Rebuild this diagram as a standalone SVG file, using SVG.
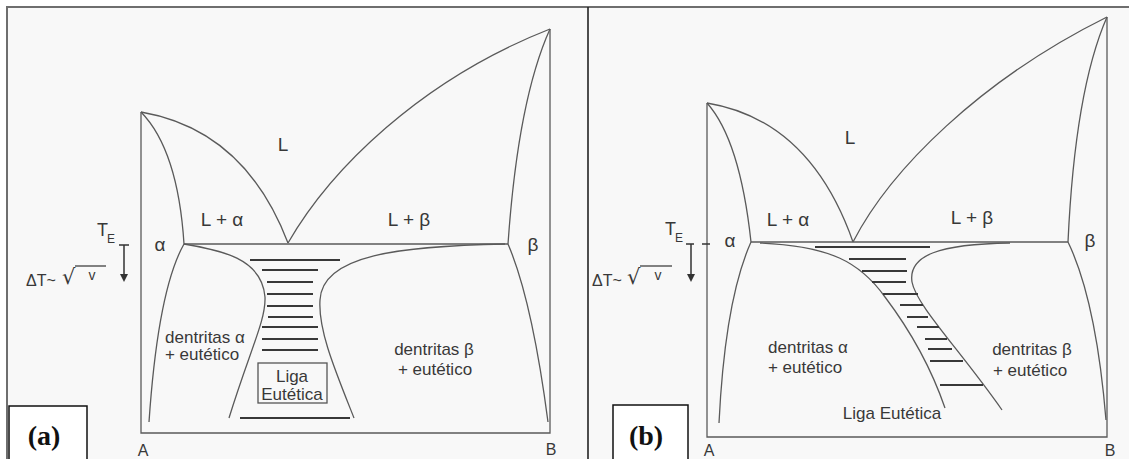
<svg xmlns="http://www.w3.org/2000/svg" width="1129" height="459" viewBox="0 0 1129 459">
<defs>
<style>
.ln{fill:none;stroke:#5a5a5a;stroke-width:1.3}
.ht{fill:none;stroke:#383838;stroke-width:2}
.fr{fill:none;stroke:#6e6e6e;stroke-width:2}
.t{font-family:"Liberation Sans",Arial,sans-serif;fill:#383838}
.rad{font-family:"DejaVu Sans",sans-serif;fill:#383838;font-size:21px}
.ph{font-size:19px;text-anchor:middle}
.rg{font-size:17px;text-anchor:middle}
.ax{font-size:16px;text-anchor:middle}
.lab{font-family:"Liberation Serif","Times New Roman",serif;font-weight:bold;font-size:28px;fill:#111;text-anchor:middle}
.box{fill:#fff;stroke:#111;stroke-width:1.5}
</style>
<marker id="ah" viewBox="0 0 10 10" refX="0" refY="5" markerUnits="userSpaceOnUse" markerWidth="9" markerHeight="8" orient="auto">
<path d="M0,0 L10,5 L0,10 z" fill="#333"/>
</marker>
</defs>
<rect x="0" y="0" width="1129" height="459" fill="#fff"/>
<rect x="8" y="8" width="1121" height="451" fill="#f8f8f8"/>
<g id="frame">
<path class="fr" d="M7,459 V7 H1129"/>
<path d="M588,7 V459" stroke="#222" stroke-width="1.6" fill="none"/>
</g>

<g id="panel-a">
<g id="a-lines">
<path class="ln" d="M141,112 V433 H550 V29"/>
<path class="ln" d="M141,112 Q245,130 288,243"/>
<path class="ln" d="M288,243 C330,170 420,80 550,29"/>
<path class="ln" d="M141,112 Q178,150 184,244"/>
<path class="ln" d="M550,29 Q518,100 508,244"/>
<path class="ln" d="M184,244 H508"/>
<path class="ln" d="M184,244 Q158,290 149,422"/>
<path class="ln" d="M508,244 Q532,300 548,422"/>
<path class="ln" d="M184,244 C220,250 262,258 265,297 C266,320 250,350 229,418"/>
<path class="ln" d="M505,244 C400,246 322,255 320,300 C318,330 335,370 354,418"/>
</g>
<g id="a-hatch">
<path class="ht" d="M250,260 H340 M262,270 H318 M267,282 H313 M267,294 H313 M267,306 H313 M268,317 H313 M262,327 H318 M262,339 H318 M262,350 H318 M240,418 H350"/>
</g>
<g id="a-te">
<text class="t" x="97" y="236" font-size="18">T</text>
<text class="t" x="107" y="243" font-size="12">E</text>
<path d="M119,245 H129" stroke="#333" stroke-width="1.5"/>
<path d="M124,245 V274" stroke="#333" stroke-width="1.5" marker-end="url(#ah)"/>
<text class="t" x="26" y="286" font-size="16">ΔT~</text>
<text class="rad" x="62" y="284">√</text>
<path d="M75,266 H106" stroke="#333" stroke-width="1.2"/>
<text class="t" x="92" y="280" font-size="14" text-anchor="middle">v</text>
</g>
<g id="a-labels">
<text class="t ph" x="283" y="151">L</text>
<text class="t ph" x="222" y="226">L + α</text>
<text class="t ph" x="409" y="226">L + β</text>
<text class="t ph" x="160" y="251">α</text>
<text class="t ph" x="533" y="251">β</text>
<text class="t rg" x="205" y="343">dentritas α</text>
<text class="t rg" x="202" y="360">+ eutético</text>
<text class="t rg" x="434" y="355">dentritas β</text>
<text class="t rg" x="435" y="375">+ eutético</text>
<rect x="258" y="363" width="69" height="40" fill="none" stroke="#555" stroke-width="1.3"/>
<text class="t rg" x="292" y="382">Liga</text>
<text class="t rg" x="292" y="400">Eutética</text>
<text class="t ax" x="143" y="456">A</text>
<text class="t ax" x="551" y="455">B</text>
</g>
<g id="a-tag">
<rect class="box" x="9" y="406" width="78" height="56"/>
<text class="lab" x="44" y="445">(a)</text>
</g>
</g>

<g id="panel-b">
<g id="b-lines">
<path class="ln" d="M707,103 V437 H1107 V17"/>
<path class="ln" d="M707,103 Q810,120 853,242"/>
<path class="ln" d="M853,242 C890,170 980,80 1107,17"/>
<path class="ln" d="M707,103 Q740,140 751,242"/>
<path class="ln" d="M1107,17 Q1075,90 1068,242"/>
<path class="ln" d="M751,242 H1068"/>
<path class="ln" d="M751,242 Q725,300 719,423"/>
<path class="ln" d="M1068,242 Q1096,300 1106,420"/>
<path class="ln" d="M760,243 C830,246 860,262 885,297 Q925,350 945,408"/>
<path class="ln" d="M1010,243 C940,244 908,255 912,282 C916,305 960,350 1002,410"/>
</g>
<g id="b-hatch">
<path class="ht" d="M815,247 H930 M849,259 H906 M862,271 H907 M872,282 H906 M883,294 H918 M900,305 H923 M907,317 H928 M917,327 H939 M925,339 H947 M928,349 H952 M930,361 H963 M940,385 H983"/>
</g>
<g id="b-te">
<text class="t" x="665" y="235" font-size="18">T</text>
<text class="t" x="675" y="242" font-size="12">E</text>
<path d="M686,244 H713" stroke="#333" stroke-width="1.5" stroke-dasharray="8,8"/>
<path d="M691,244 V274" stroke="#333" stroke-width="1.5" marker-end="url(#ah)"/>
<text class="t" x="592" y="286" font-size="16">ΔT~</text>
<text class="rad" x="627" y="284">√</text>
<path d="M640,266 H672" stroke="#333" stroke-width="1.2"/>
<text class="t" x="658" y="280" font-size="14" text-anchor="middle">v</text>
</g>
<g id="b-labels">
<text class="t ph" x="850" y="144">L</text>
<text class="t ph" x="788" y="226">L + α</text>
<text class="t ph" x="972" y="224">L + β</text>
<text class="t ph" x="730" y="247">α</text>
<text class="t ph" x="1090" y="247">β</text>
<text class="t rg" x="808" y="353">dentritas α</text>
<text class="t rg" x="805" y="373">+ eutético</text>
<text class="t rg" x="1032" y="355">dentritas β</text>
<text class="t rg" x="1030" y="376">+ eutético</text>
<text class="t rg" x="892" y="419">Liga Eutética</text>
<text class="t ax" x="709" y="456">A</text>
<text class="t ax" x="1110" y="456">B</text>
</g>
<g id="b-tag">
<rect class="box" x="613" y="405" width="75" height="57"/>
<text class="lab" x="646" y="445">(b)</text>
</g>
</g>
</svg>
